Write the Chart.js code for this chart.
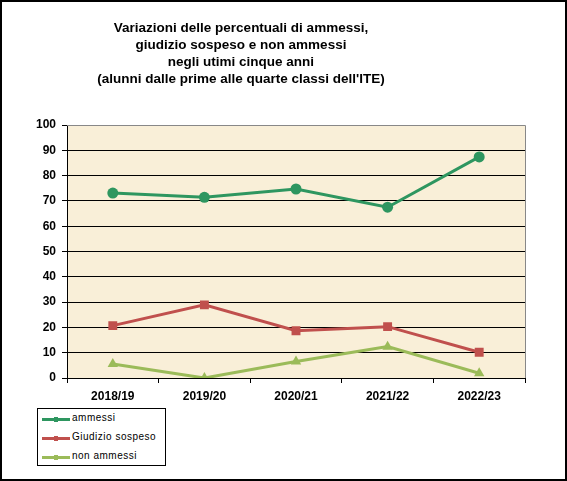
<!DOCTYPE html>
<html>
<head>
<meta charset="utf-8">
<script src="https://cdn.jsdelivr.net/npm/chart.js@4/dist/chart.umd.min.js"></script>
<style>
  html, body { margin: 0; padding: 0; background: #fff; }
  #wrap { position: relative; width: 567px; height: 481px; overflow: hidden; background:#fff; }
  #c { position: absolute; left: 0; top: 0; }
  #frame { position: absolute; left: 0; top: 0; width: 567px; height: 481px; box-sizing: border-box; border: 2px solid #000; pointer-events: none; }
  #title { position: absolute; left: 41px; width: 400px; top: 19px; text-align: center;
           font-family: "Liberation Sans", Arial, sans-serif; font-weight: bold; font-size: 13.5px; line-height: 17px; color: #000; }
  #legend { position: absolute; left: 37px; top: 408px; width: 129px; height: 58px; box-sizing: border-box; border: 1px solid #000; background:#fff;
            font-family: "Liberation Sans", Arial, sans-serif; font-size: 10px; letter-spacing: 0.5px; }
  .li { position: absolute; left: 4px; height: 12px; }
  .li .ln { position: absolute; left: 0; top: 5px; width: 28px; height: 3px; }
  .li .mk { position: absolute; left: 12px; top: 4px; width: 4px; height: 5px; }
  .li .tx { position: absolute; left: 30px; top: -1px; white-space: nowrap; }
</style>
</head>
<body>
<div id="wrap">
  <canvas id="c" width="567" height="481"></canvas>
  <div id="title"></div>
  <div id="legend"></div>
  <div id="frame"></div>
</div>
<script>
const titleLines = [
  "Variazioni delle percentuali di ammessi,",
  "giudizio sospeso e non ammessi",
  "negli utimi cinque anni",
  "(alunni dalle prime alle quarte classi dell'ITE)"
];
const categories = ["2018/19", "2019/20", "2020/21", "2021/22", "2022/23"];
const seriesNames = ["ammessi", "Giudizio sospeso", "non ammessi"];
const ammessi = [73.1, 71.4, 74.7, 67.5, 87.4];
const giudizioSospeso = [20.7, 28.9, 18.7, 20.3, 10.2];
const nonAmmessi = [5.5, 0.0, 6.5, 12.4, 1.9];
const yTicks = [0, 10, 20, 30, 40, 50, 60, 70, 80, 90, 100];

const colors = ["#2E9660", "#C0504D", "#9BBB59"];
const markers = ["circle", "rect", "triangle"];
const radii = [5.5, 6.3, 6];

document.getElementById("title").innerHTML = titleLines.map(t => t.replace(/&/g,"&amp;")).join("<br>");

const leg = document.getElementById("legend");
seriesNames.forEach((n, i) => {
  const d = document.createElement("div");
  d.className = "li";
  d.style.top = (4 + i * 19) + "px";
  d.innerHTML = '<div class="ln" style="background:' + colors[i] + '"></div><div class="mk" style="background:' + colors[i] + '"></div><div class="tx"></div>';
  d.querySelector(".tx").textContent = n;
  leg.appendChild(d);
});

const plotDeco = {
  id: "plotDeco",
  beforeDraw(chart) {
    const a = chart.chartArea, ctx = chart.ctx;
    ctx.save();
    ctx.fillStyle = "#F9EFD8";
    ctx.fillRect(a.left, a.top, a.right - a.left, a.bottom - a.top);
    ctx.restore();
  },
  afterDraw(chart) {
    const a = chart.chartArea, ctx = chart.ctx;
    ctx.save();
    ctx.strokeStyle = "#888";
    ctx.lineWidth = 1;
    ctx.beginPath();
    ctx.moveTo(a.left, a.top + 0.5);
    ctx.lineTo(a.right + 0.5, a.top + 0.5);
    ctx.lineTo(a.right + 0.5, a.bottom);
    ctx.stroke();
    ctx.restore();
  }
};

const allSeries = [ammessi, giudizioSospeso, nonAmmessi];
new Chart(document.getElementById("c"), {
  type: "line",
  data: {
    labels: categories,
    datasets: allSeries.map((d, i) => ({
      label: seriesNames[i],
      data: d,
      borderColor: colors[i],
      backgroundColor: colors[i],
      borderWidth: 3,
      pointStyle: markers[i],
      pointRadius: radii[i],
      pointBorderWidth: 0,
      tension: 0
    }))
  },
  options: {
    responsive: false,
    animation: false,
    devicePixelRatio: 1,
    layout: { padding: { left: 0, top: 125, right: 42, bottom: 73 } },
    plugins: { legend: { display: false }, title: { display: false }, tooltip: { enabled: false } },
    scales: {
      x: {
        offset: true,
        grid: { offset: true, drawOnChartArea: false, color: "#000", tickLength: 5, lineWidth: 1 },
        border: { color: "#000", width: 1 },
        ticks: { color: "#000", font: { family: "'Liberation Sans', Arial, sans-serif", weight: "bold", size: 12 }, padding: 6, maxRotation: 0 },
        afterFit(s) { s.height = 30; }
      },
      y: {
        min: 0, max: 100,
        afterBuildTicks(s) { s.ticks = yTicks.map(v => ({ value: v })); },
        grid: { color: ctx => (ctx.tick && ctx.tick.value === 100) ? "rgba(0,0,0,0)" : "#000", tickColor: "#000", tickLength: 5, lineWidth: 1 },
        border: { color: "#000", width: 1 },
        ticks: { color: "#000", font: { family: "'Liberation Sans', Arial, sans-serif", weight: "bold", size: 12 }, padding: 6 },
        afterFit(s) { s.width = 67; }
      }
    }
  },
  plugins: [plotDeco]
});
</script>
</body>
</html>
